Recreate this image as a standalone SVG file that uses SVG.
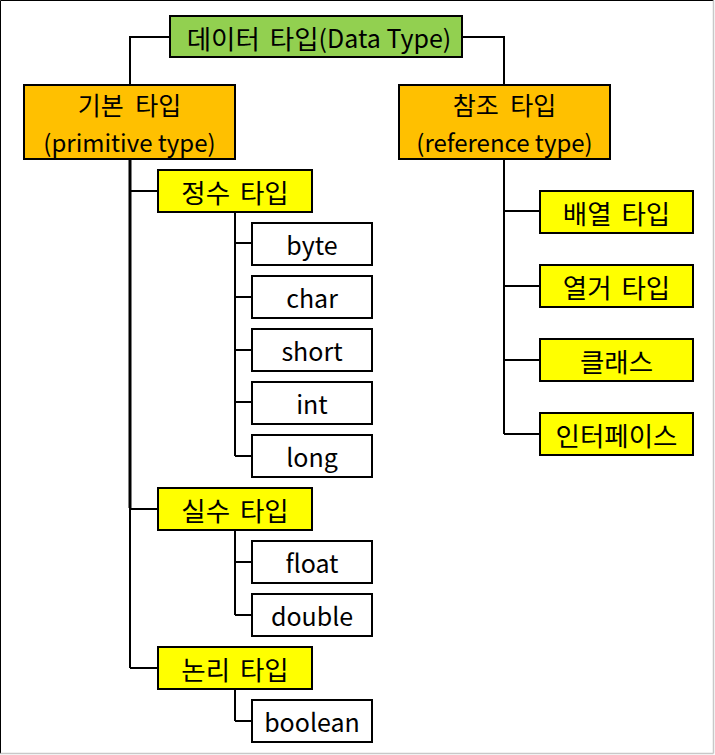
<svg xmlns="http://www.w3.org/2000/svg" width="715" height="755" viewBox="0 0 715 755">
<style>
.box{stroke:#000;stroke-width:2}
.g{fill:#92D050}
.o{fill:#FFC000}
.y{fill:#FFFF00}
.w{fill:#FFFFFF}
.t{font-family:"Malgun Gothic","Noto Sans CJK KR","Noto Sans",sans-serif;font-size:25px;fill:#000;text-anchor:middle;dominant-baseline:central}
.k{font-size:26.5px;word-spacing:4px}
.k2{font-size:25px;word-spacing:6px}
.l2{font-size:24px}
.c{stroke:#000;stroke-width:2;fill:none}
</style>
<rect x="0" y="0" width="715" height="755" fill="#fff"/>
<line x1="0.5" y1="0.5" x2="713.5" y2="0.5" stroke="#000" stroke-width="1"/>
<line x1="0.5" y1="0.5" x2="0.5" y2="753.5" stroke="#000" stroke-width="1"/>
<line x1="713.5" y1="0.5" x2="713.5" y2="753.5" stroke="#c8c8c8" stroke-width="1.5"/>
<line x1="0.5" y1="753.5" x2="713.5" y2="753.5" stroke="#c8c8c8" stroke-width="1.5"/>
<g id="connectors">
<polyline class="c" points="170,37 130,37 130,85"/>
<polyline class="c" points="462,37 504,37 504,85"/>
<line class="c" x1="130" y1="159" x2="130" y2="508" style="stroke-width:3"/>
<line class="c" x1="130" y1="508" x2="130" y2="668"/>
<line class="c" x1="130" y1="191" x2="158" y2="191"/>
<line class="c" x1="130" y1="509" x2="158" y2="509"/>
<line class="c" x1="130" y1="668" x2="158" y2="668"/>
<line class="c" x1="235" y1="212" x2="235" y2="456"/>
<line class="c" x1="235" y1="243" x2="252" y2="243"/>
<line class="c" x1="235" y1="297" x2="252" y2="297"/>
<line class="c" x1="235" y1="350" x2="252" y2="350"/>
<line class="c" x1="235" y1="402" x2="252" y2="402"/>
<line class="c" x1="235" y1="456" x2="252" y2="456"/>
<line class="c" x1="235" y1="530" x2="235" y2="615"/>
<line class="c" x1="235" y1="562" x2="252" y2="562"/>
<line class="c" x1="235" y1="615" x2="252" y2="615"/>
<line class="c" x1="235" y1="689" x2="235" y2="721"/>
<line class="c" x1="235" y1="721" x2="252" y2="721"/>
<line class="c" x1="504" y1="159" x2="504" y2="434"/>
<line class="c" x1="504" y1="211" x2="540" y2="211"/>
<line class="c" x1="504" y1="286" x2="540" y2="286"/>
<line class="c" x1="504" y1="360" x2="540" y2="360"/>
<line class="c" x1="504" y1="434" x2="540" y2="434"/>
</g>
<g id="root"><rect class="box g" x="170" y="16" width="292" height="41"/><text class="t" x="319" y="37"><tspan class="k">데이터 타입</tspan>(Data Type)</text></g>
<g id="primitive"><rect class="box o" x="24" y="85" width="211" height="74"/><text class="t k2" x="129.5" y="104">기본 타입</text><text class="t l2" x="129.5" y="141">(primitive type)</text></g>
<g id="reference"><rect class="box o" x="399" y="85" width="211" height="74"/><text class="t k2" x="504.5" y="104">참조 타입</text><text class="t l2" x="504.5" y="141">(reference type)</text></g>
<g id="integer"><rect class="box y" x="158" y="170" width="154" height="42"/><text class="t k" x="235" y="191">정수 타입</text></g>
<g id="byte"><rect class="box w" x="252" y="223" width="120" height="42"/><text class="t" x="312" y="244">byte</text></g>
<g id="char"><rect class="box w" x="252" y="276" width="120" height="42"/><text class="t" x="312" y="297">char</text></g>
<g id="short"><rect class="box w" x="252" y="329" width="120" height="42"/><text class="t" x="312" y="350">short</text></g>
<g id="int"><rect class="box w" x="252" y="382" width="120" height="42"/><text class="t" x="312" y="403">int</text></g>
<g id="long"><rect class="box w" x="252" y="435" width="120" height="42"/><text class="t" x="312" y="456">long</text></g>
<g id="real"><rect class="box y" x="158" y="488" width="154" height="42"/><text class="t k" x="235" y="509">실수 타입</text></g>
<g id="float"><rect class="box w" x="252" y="541" width="120" height="42"/><text class="t" x="312" y="562">float</text></g>
<g id="double"><rect class="box w" x="252" y="594" width="120" height="42"/><text class="t" x="312" y="615">double</text></g>
<g id="logic"><rect class="box y" x="158" y="647" width="154" height="42"/><text class="t k" x="235" y="668">논리 타입</text></g>
<g id="boolean"><rect class="box w" x="252" y="700" width="120" height="42"/><text class="t" x="312" y="721">boolean</text></g>
<g id="array"><rect class="box y" x="540" y="191" width="153" height="42"/><text class="t k" x="616.5" y="212">배열 타입</text></g>
<g id="enum"><rect class="box y" x="540" y="265" width="153" height="42"/><text class="t k" x="616.5" y="286">열거 타입</text></g>
<g id="class"><rect class="box y" x="540" y="339" width="153" height="42"/><text class="t k" x="616.5" y="360">클래스</text></g>
<g id="interface"><rect class="box y" x="540" y="413" width="153" height="42"/><text class="t k" x="616.5" y="434">인터페이스</text></g>
</svg>
